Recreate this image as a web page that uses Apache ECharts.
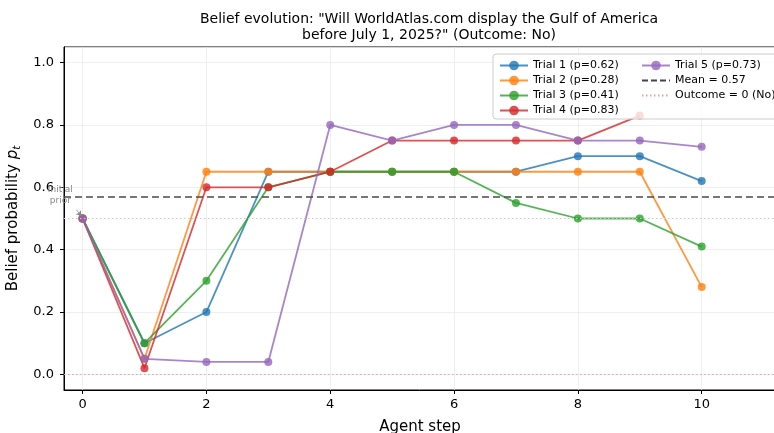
<!DOCTYPE html>
<html>
<head>
<meta charset="utf-8">
<script src="https://cdn.jsdelivr.net/npm/echarts@6/dist/echarts.min.js"></script>
<style>
html,body{margin:0;padding:0;background:#fff;}
#chart{width:774px;height:433px;}
</style>
</head>
<body>
<div id="chart"></div>
<script>
const steps = [0, 1, 2, 3, 4, 5, 6, 7, 8, 9, 10];
const trial1 = [0.5, 0.1, 0.2, 0.65, 0.65, 0.65, 0.65, 0.65, 0.7, 0.7, 0.62];
const trial2 = [0.5, 0.05, 0.65, 0.65, 0.65, 0.65, 0.65, 0.65, 0.65, 0.65, 0.28];
const trial3 = [0.5, 0.1, 0.3, 0.6, 0.65, 0.65, 0.65, 0.55, 0.5, 0.5, 0.41];
const trial4 = [0.5, 0.02, 0.6, 0.6, 0.65, 0.75, 0.75, 0.75, 0.75, 0.83];
const trial5 = [0.5, 0.05, 0.04, 0.04, 0.8, 0.75, 0.8, 0.8, 0.75, 0.75, 0.73];
const trialNames = ['Trial 1 (p=0.62)', 'Trial 2 (p=0.28)', 'Trial 3 (p=0.41)', 'Trial 4 (p=0.83)', 'Trial 5 (p=0.73)'];
const meanValue = 0.574;
const priorValue = 0.5;
const outcomeValue = 0;
const meanName = 'Mean = 0.57';
const outcomeName = 'Outcome = 0 (No)';
const annotationText = 'Initial\nprior';
const annotationTextAt = [-0.36, 0.575];
const annotationArrow = [[-0.1, 0.528], [-0.02, 0.508]];
const colors = ['#1f77b4', '#ff7f0e', '#2ca02c', '#d62728', '#9467bd'];
const trials = [trial1, trial2, trial3, trial4, trial5];

const FONT = 'DejaVu Sans';
const chart = echarts.init(document.getElementById('chart'), null, {renderer: 'canvas'});

const trialSeries = trials.map((t, k) => ({
  name: trialNames[k],
  type: 'line',
  data: t.map((v, i) => [steps[i], v]),
  symbol: 'circle',
  symbolSize: 8,
  color: colors[k],
  lineStyle: {width: 1.8, opacity: 0.8},
  itemStyle: {opacity: 0.8},
  emphasis: {disabled: true},
  z: 2 + k * 0.01,
  animation: false
}));

const legendText = {fontFamily: FONT, fontSize: 11, color: '#000'};
const hiddenSym = {opacity: 0};
const legendBox = {
  type: 'rect',
  z: 8,
  shape: {x: 493, y: 54, width: 300, height: 65, r: 3},
  style: {fill: 'rgba(255,255,255,0.8)', stroke: '#cccccc', lineWidth: 1}
};

const option = {
  animation: false,
  backgroundColor: '#fff',
  title: {
    text: 'Belief evolution: "Will WorldAtlas.com display the Gulf of America\nbefore July 1, 2025?" (Outcome: No)',
    left: 424,
    top: 6,
    textAlign: 'center',
    textStyle: {fontFamily: FONT, fontSize: 14, fontWeight: 'normal', color: '#000', lineHeight: 16}
  },
  grid: {
    left: 64, right: -2, top: 47, bottom: 43,
    outerBoundsMode: 'none',
    containLabel: false,
    show: true, borderColor: '#000', borderWidth: 1, backgroundColor: 'transparent'
  },
  xAxis: {
    type: 'value',
    min: -0.3,
    max: 11.2,
    splitNumber: 5,
    name: 'Agent step',
    nameLocation: 'middle',
    nameGap: 30,
    nameTextStyle: {fontFamily: FONT, fontSize: 15, color: '#000'},
    axisLine: {show: true, onZero: false, lineStyle: {color: '#000', width: 1}},
    axisTick: {show: true, length: 4, lineStyle: {color: '#000'}},
    axisLabel: {fontFamily: FONT, fontSize: 13, color: '#000', margin: 8, showMinLabel: false, showMaxLabel: false},
    splitLine: {show: true, lineStyle: {color: '#ebebeb', width: 0.8}}
  },
  yAxis: {
    type: 'value',
    min: -0.05,
    max: 1.05,
    splitNumber: 5,
    name: 'Belief probability {i|p}{s|t}',
    nameLocation: 'middle',
    nameGap: 38,
    nameTextStyle: {
      fontFamily: FONT, fontSize: 15, color: '#000',
      rich: {
        i: {fontFamily: FONT, fontStyle: 'italic', fontSize: 15, color: '#000'},
        s: {fontFamily: FONT, fontStyle: 'italic', fontSize: 10.5, color: '#000', verticalAlign: 'bottom', padding: [7, 0, 0, 0]}
      }
    },
    axisLine: {show: true, onZero: false, lineStyle: {color: '#000', width: 1}},
    axisTick: {show: true, length: 4, lineStyle: {color: '#000'}},
    axisLabel: {fontFamily: FONT, fontSize: 13, color: '#000', margin: 10, showMinLabel: false, showMaxLabel: false,
      formatter: v => v.toFixed(1)},
    splitLine: {show: true, lineStyle: {color: '#ebebeb', width: 0.8}}
  },
  legend: [
    {
      data: trialNames.slice(0, 4),
      orient: 'vertical',
      left: 494, top: 55,
      itemWidth: 28, itemHeight: 12, itemGap: 4,
      textStyle: legendText,
      z: 10,
      selectedMode: false
    },
    {
      data: [trialNames[4], {name: meanName, itemStyle: hiddenSym}, {name: outcomeName, itemStyle: hiddenSym}],
      orient: 'vertical',
      left: 636, top: 55,
      itemWidth: 28, itemHeight: 12, itemGap: 4,
      textStyle: legendText,
      z: 10,
      selectedMode: false
    }
  ],
  graphic: [legendBox],
  series: [
    {
      name: 'prior-ref',
      type: 'line',
      data: [],
      silent: true,
      markLine: {
        silent: true, symbol: 'none', animation: false,
        label: {show: false},
        lineStyle: {color: '#c8c8c8', type: [1.5, 2.5], width: 1},
        data: [{yAxis: priorValue}]
      }
    },
    ...trialSeries,
    {
      name: meanName,
      type: 'line',
      data: [],
      symbol: 'none',
      color: '#444444',
      lineStyle: {color: '#444444', type: [6, 3], width: 1.6},
      markLine: {
        silent: true, symbol: 'none', animation: false,
        label: {show: false},
        lineStyle: {color: '#4a4a4a', type: [7, 4], width: 1.6},
        data: [{yAxis: meanValue}]
      }
    },
    {
      name: outcomeName,
      type: 'line',
      data: [],
      symbol: 'none',
      color: '#eba0a0',
      lineStyle: {color: '#eba0a0', type: [1.5, 2.5], width: 1},
      markLine: {
        silent: true, symbol: 'none', animation: false,
        label: {show: false},
        lineStyle: {color: '#eba0a0', type: [1.5, 2.5], width: 1},
        data: [{yAxis: outcomeValue}]
      }
    },
    {
      name: 'annotation',
      type: 'line',
      data: [],
      clip: false,
      silent: true,
      markLine: {
        silent: true, animation: false,
        symbol: ['none', 'arrow'], symbolSize: 5,
        label: {show: false},
        lineStyle: {color: '#888888', type: 'solid', width: 0.8},
        data: [[{coord: annotationArrow[0]}, {coord: annotationArrow[1]}]]
      }
    }
  ]
};
chart.setOption(option);

const p = chart.convertToPixel({gridIndex: 0}, annotationTextAt);
chart.setOption({
  graphic: [
    legendBox,
    {
      type: 'text',
      z: 9,
      x: p[0], y: p[1],
      style: {text: annotationText, fill: '#888888', font: '9px "DejaVu Sans"', align: 'center', verticalAlign: 'middle', lineHeight: 11}
    }
  ]
});
</script>
</body>
</html>
